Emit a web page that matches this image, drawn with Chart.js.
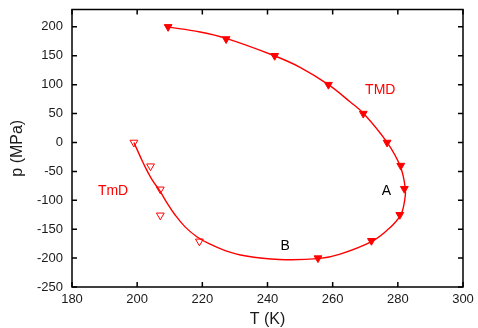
<!DOCTYPE html>
<html>
<head>
<meta charset="utf-8">
<script src="https://cdn.jsdelivr.net/npm/chart.js@4.4.1/dist/chart.umd.min.js"></script>
<style>
  html, body { margin: 0; padding: 0; background: #ffffff; }
  #wrap { width: 478px; height: 328px; }
</style>
</head>
<body>
<div id="wrap"><canvas id="c" width="478" height="328"></canvas></div>
<script>
// Temperature of maximum density (filled) and minimum density (open) along pressure
const tmdT = [209.5, 227.3, 242.2, 258.7, 269.4, 276.7, 280.9, 282.0, 280.6, 271.9, 255.5];
const tmdP = [200, 179, 150, 100, 50, 0, -40, -80, -125, -170, -200];
const tmdLowT = [199.0, 204.1, 207.1, 207.1, 219.1];
const tmdLowP = [0, -41, -81, -126, -171];

// Smooth fitted line through both branches
const fitT = [199.0, 201.9, 204.5, 207.0, 209.1, 211.6, 214.7, 218.3, 222.4, 227.0, 233.0, 243.5, 255.5, 262.3, 272.1, 276.7, 280.8, 282.1, 282.3, 280.8, 276.7, 269.5, 265.4, 258.7, 250.0, 242.1, 227.3, 219.3, 209.1];
const fitP = [0, -36, -64, -84, -104, -125, -146, -163, -176, -187, -196, -202.5, -201, -193, -171, -152, -126, -100, -80, -42, 0, 50, 70, 100, 130, 150, 180, 191, 200];

const xTicks = [180, 200, 220, 240, 260, 280, 300];
const yTicks = [-250, -200, -150, -100, -50, 0, 50, 100, 150, 200];

// In-plot labels: text, T, p, colour
const noteText = ['TMD', 'TmD', 'A', 'B'];
const noteT = [274.6, 192.6, 276.5, 245.4];
const noteP = [90, -84, -85, -179];
const noteColor = ['#ff0000', '#ff0000', '#000000', '#000000'];

const red = '#ff0000';
const zip = (xs, ys) => xs.map((x, i) => ({ x: x, y: ys[i] }));

const frame = {
  id: 'frame',
  afterDraw(chart) {
    const { ctx, chartArea: a, scales: { x, y } } = chart;
    ctx.save();
    ctx.strokeStyle = '#000000';
    ctx.lineWidth = 1.5;
    const tl = 5;
    ctx.beginPath();
    xTicks.forEach(v => {
      const px = x.getPixelForValue(v);
      ctx.moveTo(px, a.bottom); ctx.lineTo(px, a.bottom - tl);
      ctx.moveTo(px, a.top); ctx.lineTo(px, a.top + tl);
    });
    yTicks.forEach(v => {
      const py = y.getPixelForValue(v);
      ctx.moveTo(a.left, py); ctx.lineTo(a.left + tl, py);
      ctx.moveTo(a.right, py); ctx.lineTo(a.right - tl, py);
    });
    ctx.stroke();
    ctx.strokeRect(a.left, a.top, a.right - a.left, a.bottom - a.top);

    ctx.font = '14px "Liberation Sans", Arial, sans-serif';
    ctx.textAlign = 'center';
    ctx.textBaseline = 'middle';
    noteText.forEach((t, i) => {
      ctx.fillStyle = noteColor[i];
      ctx.fillText(t, x.getPixelForValue(noteT[i]), y.getPixelForValue(noteP[i]));
    });
    ctx.restore();
  }
};

const tickFont = { family: '"Liberation Sans", Arial, sans-serif', size: 13 };
const titleFont = { family: '"Liberation Sans", Arial, sans-serif', size: 16 };

new Chart(document.getElementById('c'), {
  type: 'scatter',
  data: {
    datasets: [
      {
        label: 'fit',
        data: zip(fitT, fitP),
        showLine: true,
        tension: 0.4,
        borderColor: red,
        borderWidth: 1.4,
        pointRadius: 0,
        fill: false,
        order: 2
      },
      {
        label: 'TMD',
        data: zip(tmdT, tmdP),
        showLine: false,
        pointStyle: 'triangle',
        rotation: 180,
        pointRadius: 4.5,
        backgroundColor: red,
        borderColor: red,
        borderWidth: 1,
        order: 1
      },
      {
        label: 'TmD',
        data: zip(tmdLowT, tmdLowP),
        showLine: false,
        pointStyle: 'triangle',
        rotation: 180,
        pointRadius: 4.5,
        backgroundColor: 'rgba(255,255,255,0)',
        borderColor: red,
        borderWidth: 1,
        order: 1
      }
    ]
  },
  options: {
    responsive: false,
    animation: false,
    layout: { padding: { left: 0, right: 15, top: 9.5, bottom: 0 } },
    plugins: { legend: { display: false }, tooltip: { enabled: false } },
    scales: {
      x: {
        type: 'linear',
        min: 180, max: 300,
        afterBuildTicks: s => { s.ticks = xTicks.map(v => ({ value: v })); },
        afterFit: s => { s.height = 41; s.paddingLeft = 0; s.paddingRight = 0; },
        grid: { display: false, drawTicks: false },
        border: { display: false },
        ticks: { color: '#1a1a1a', font: tickFont, padding: 5, maxRotation: 0 },
        title: { display: true, text: 'T (K)', color: '#1a1a1a', font: titleFont, padding: { top: 0, bottom: -1 } }
      },
      y: {
        type: 'linear',
        min: -250, max: 230,
        afterBuildTicks: s => { s.ticks = yTicks.map(v => ({ value: v })); },
        afterFit: s => { s.width = 72; s.paddingTop = 0; s.paddingBottom = 0; },
        grid: { display: false, drawTicks: false },
        border: { display: false },
        ticks: { color: '#1a1a1a', font: tickFont, padding: 9 },
        title: { display: true, text: 'p (MPa)', color: '#1a1a1a', font: titleFont, padding: { top: 8, bottom: 0 } }
      }
    }
  },
  plugins: [frame]
});
</script>
</body>
</html>
